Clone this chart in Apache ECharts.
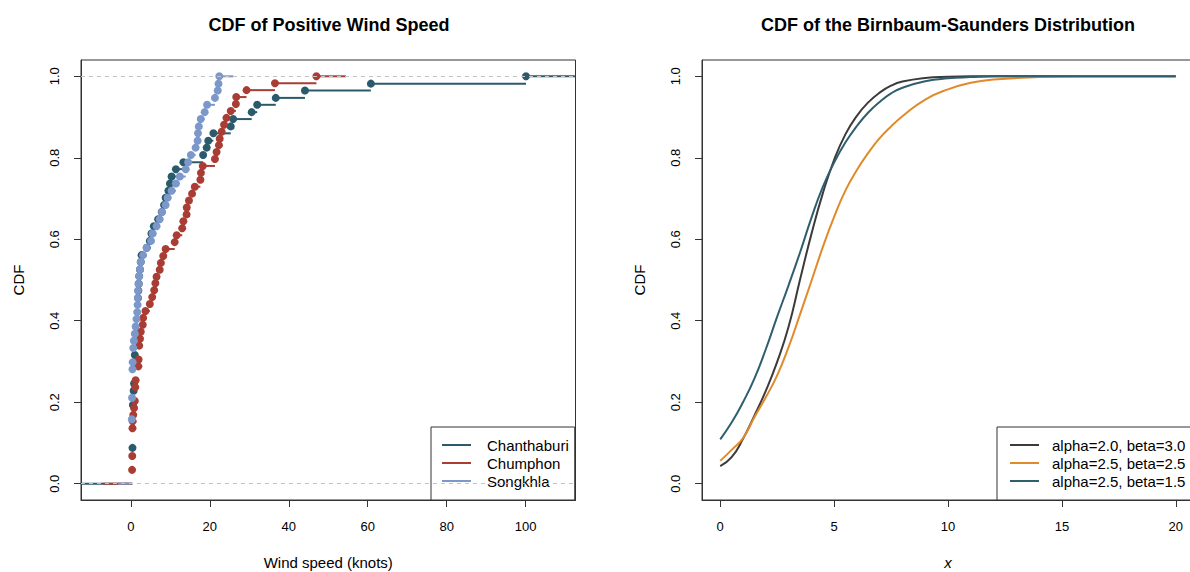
<!DOCTYPE html>
<html><head><meta charset="utf-8">
<script src="https://cdn.jsdelivr.net/npm/echarts@6/dist/echarts.min.js"></script>
<style>html,body{margin:0;padding:0;background:#fff}#c{width:1190px;height:572px}</style>
</head><body><div id="c"></div>
<script>
const stations = ['Chanthaburi', 'Chumphon', 'Songkhla'];
const stationColors = ['#2a5a6b', '#a93c33', '#7c97ca'];

const chanthaburiX = [0.4,0.5,0.7,0.8,0.9,1.0,1.8,1.9,2.0,2.1,2.3,2.5,2.7,4.0,4.8,5.2,5.8,6.9,7.8,8.4,8.8,9.5,9.9,10.3,11.4,13.3,18.3,19.2,19.6,20.9,25.3,25.9,30.6,32.0,36.7,44.1,60.8,100.1];
const chanthaburiF = [0.088,0.193,0.228,0.246,0.298,0.316,0.456,0.474,0.491,0.509,0.526,0.544,0.561,0.579,0.596,0.614,0.632,0.649,0.667,0.684,0.702,0.719,0.737,0.754,0.772,0.789,0.807,0.825,0.842,0.860,0.877,0.895,0.912,0.930,0.947,0.965,0.982,1.000];

const chumphonX = [0.3,0.35,0.4,0.45,0.6,0.8,1.0,1.1,1.2,1.9,1.95,2.1,2.3,2.5,3.0,3.1,3.7,4.8,5.4,5.9,6.2,6.5,7.3,7.6,8.2,8.8,11.1,11.6,13.0,13.3,14.1,14.15,14.7,15.5,16.2,17.6,17.75,18.2,21.3,21.7,22.3,22.5,23.0,23.6,24.2,25.3,26.6,26.7,29.3,36.5,47.0];
const chumphonF = [0.034,0.068,0.136,0.153,0.169,0.186,0.203,0.237,0.254,0.288,0.305,0.339,0.356,0.373,0.390,0.407,0.424,0.441,0.458,0.475,0.492,0.508,0.525,0.542,0.559,0.576,0.593,0.610,0.627,0.644,0.661,0.678,0.695,0.712,0.729,0.746,0.763,0.780,0.797,0.814,0.831,0.847,0.864,0.881,0.898,0.915,0.932,0.949,0.966,0.983,1.000];

const songkhlaX = [0.25,0.3,0.4,0.45,0.6,0.75,1.0,1.2,1.4,1.6,1.7,1.75,1.8,1.9,2.1,2.3,2.5,3.1,4.0,5.1,5.5,6.5,7.3,7.9,8.8,9.3,10.3,11.4,12.4,13.9,14.5,15.2,16.4,16.9,17.0,17.2,17.7,18.7,19.3,21.3,22.0,22.2,22.4];
const songkhlaF = [0.158,0.211,0.281,0.298,0.333,0.351,0.368,0.386,0.404,0.421,0.439,0.456,0.474,0.491,0.509,0.526,0.544,0.561,0.579,0.596,0.614,0.632,0.649,0.667,0.684,0.702,0.719,0.737,0.754,0.772,0.789,0.807,0.825,0.842,0.860,0.877,0.895,0.912,0.930,0.947,0.965,0.982,1.000];

const leftXTicks = [0, 20, 40, 60, 80, 100];
const yTicks = [0, 0.2, 0.4, 0.6, 0.8, 1.0];

const bsNames = ['alpha=2.0, beta=3.0', 'alpha=2.5, beta=2.5', 'alpha=2.5, beta=1.5'];
const bsColors = ['#3b3b3b', '#e08a2b', '#2f5e6f'];
const bsX = [0,0.5,1,1.5,2,2.5,3,3.5,4,4.5,5,5.5,6,6.5,7,7.5,8,9,10,11,12,14,16,18,20];
const bsF1 = [0.043,0.065,0.110,0.167,0.228,0.299,0.385,0.500,0.612,0.712,0.795,0.858,0.903,0.936,0.960,0.977,0.987,0.996,0.999,1.000,1.000,1.000,1.000,1.000,1.000];
const bsF2 = [0.056,0.083,0.112,0.163,0.212,0.266,0.335,0.415,0.497,0.580,0.655,0.720,0.770,0.812,0.848,0.877,0.902,0.943,0.968,0.984,0.992,0.998,1.000,1.000,1.000];
const bsF3 = [0.109,0.150,0.200,0.258,0.330,0.410,0.487,0.567,0.652,0.728,0.788,0.838,0.878,0.911,0.937,0.958,0.972,0.988,0.995,0.998,1.000,1.000,1.000,1.000,1.000];
const rightXTicks = [0, 5, 10, 15, 20];

const FONT = '"Liberation Sans", Arial, Helvetica, sans-serif';
const stationX = [chanthaburiX, chumphonX, songkhlaX];
const stationF = [chanthaburiF, chumphonF, songkhlaF];

function ecdfSegments(xs, fs) {
  const dr = 0.08 * (xs[xs.length - 1] - xs[0]);
  const segs = [[xs[0] - 2 * dr, xs[0], 0]];
  for (let i = 0; i < xs.length; i++) {
    const xn = i < xs.length - 1 ? xs[i + 1] : xs[i] + 2 * dr;
    segs.push([xs[i], xn, fs[i]]);
  }
  return segs;
}
function renderSeg(params, api) {
  const cs = params.coordSys;
  const y = api.value(2);
  const p0 = api.coord([api.value(0), y]);
  const p1 = api.coord([api.value(1), y]);
  const a = Math.max(p0[0], cs.x), b = Math.min(p1[0], cs.x + cs.width);
  if (b <= a) return null;
  return { type: 'line', shape: { x1: a, y1: p0[1], x2: b, y2: p0[1] },
           style: { stroke: api.visual('color'), lineWidth: 2 } };
}

function xAxisCfg(grid, min, max, ticks, name, italic) {
  return {
    gridIndex: grid, type: 'value', min: min, max: max, position: 'bottom',
    splitLine: { show: false }, axisLine: { show: true, onZero: false, lineStyle: { color: '#333', width: 1 } },
    axisTick: { show: true, inside: false, length: 7, customValues: ticks, lineStyle: { color: '#333', width: 1 } },
    axisLabel: { customValues: ticks, fontSize: 13, color: '#000', margin: 20, fontFamily: FONT },
    name: name, nameLocation: 'middle', nameGap: 55, nameMoveOverlap: false,
    nameTextStyle: { fontSize: 15, color: '#000', fontFamily: FONT, fontStyle: italic ? 'italic' : 'normal' }
  };
}
function yAxisCfg(grid) {
  return {
    gridIndex: grid, type: 'value', min: -0.04, max: 1.04, position: 'left',
    splitLine: { show: false }, axisLine: { show: true, onZero: false, lineStyle: { color: '#333', width: 1 } },
    axisTick: { show: true, inside: false, length: 7, customValues: yTicks, lineStyle: { color: '#333', width: 1 } },
    axisLabel: { customValues: yTicks, rotate: 90, fontSize: 13, color: '#000', margin: 20, fontFamily: FONT,
                 formatter: v => v.toFixed(1) },
    name: 'CDF', nameLocation: 'middle', nameGap: 55, nameRotate: 90, nameMoveOverlap: false,
    nameTextStyle: { fontSize: 15, color: '#000', fontFamily: FONT }
  };
}

const series = [];
series.push({
  type: 'line', xAxisIndex: 0, yAxisIndex: 0, data: [], silent: true, z: 2,
  markLine: { silent: true, symbol: 'none', label: { show: false },
              lineStyle: { color: '#c4c4c4', type: [4, 4], width: 1 },
              data: [{ yAxis: 0 }, { yAxis: 1 }] }
});
stations.forEach((name, i) => {
  series.push({
    type: 'custom', name: name, xAxisIndex: 0, yAxisIndex: 0, silent: true, z: 2,
    renderItem: renderSeg, encode: { x: [0, 1], y: 2 },
    itemStyle: { color: stationColors[i] },
    data: ecdfSegments(stationX[i], stationF[i])
  });
  series.push({
    type: 'scatter', name: name, xAxisIndex: 0, yAxisIndex: 0, silent: true, z: 2,
    symbol: 'circle', symbolSize: 8,
    itemStyle: { color: stationColors[i], opacity: 1 },
    data: stationX[i].map((x, j) => [x, stationF[i][j]])
  });
});
[bsF1, bsF2, bsF3].forEach((fs, i) => {
  series.push({
    type: 'line', name: bsNames[i], xAxisIndex: 1, yAxisIndex: 1, silent: true,
    smooth: true, showSymbol: false, symbol: 'none',
    lineStyle: { color: bsColors[i], width: 2 }, itemStyle: { color: bsColors[i] },
    data: bsX.map((x, j) => [x, fs[j]])
  });
});

const legendBase = {
  orient: 'vertical', icon: 'rect', itemWidth: 29, itemHeight: 2, itemGap: 0,
  borderColor: '#333', borderWidth: 1, backgroundColor: '#fff', borderRadius: 0,
  selectedMode: false
};

const option = {
  animation: false,
  backgroundColor: '#fff',
  title: [
    { text: 'CDF of Positive Wind Speed', left: 329, top: 16, textAlign: 'center', padding: 0,
      textStyle: { fontSize: 18, fontWeight: 'bold', color: '#000', fontFamily: FONT } },
    { text: 'CDF of the Birnbaum-Saunders Distribution', left: 948, top: 16, textAlign: 'center', padding: 0,
      textStyle: { fontSize: 18, fontWeight: 'bold', color: '#000', fontFamily: FONT } }
  ],
  grid: [
    { left: 81, top: 60, width: 494.5, height: 440, show: true, borderColor: '#333', borderWidth: 1, backgroundColor: 'transparent', outerBoundsMode: 'none' },
    { left: 702, top: 60, width: 492, height: 440, show: true, borderColor: '#333', borderWidth: 1, backgroundColor: 'transparent', outerBoundsMode: 'none' }
  ],
  xAxis: [
    xAxisCfg(0, -12.64, 112.64, leftXTicks, 'Wind speed (knots)', false),
    xAxisCfg(1, -0.8, 20.8, rightXTicks, 'x', true)
  ],
  yAxis: [yAxisCfg(0), yAxisCfg(1)],
  legend: [
    Object.assign({}, legendBase, {
      left: 431, top: 427, padding: [9, 6, 10, 11],
      data: stations.map((n, i) => ({ name: n, itemStyle: { color: stationColors[i] } })),
      textStyle: { fontSize: 15, lineHeight: 18, color: '#000', fontFamily: FONT, padding: [0, 0, 0, 11] }
    }),
    Object.assign({}, legendBase, {
      left: 997, top: 427, padding: [9, 6, 10, 13],
      data: bsNames.map((n, i) => ({ name: n, itemStyle: { color: bsColors[i] } })),
      textStyle: { fontSize: 15, lineHeight: 18, color: '#000', fontFamily: FONT, padding: [0, 0, 0, 8] }
    })
  ],
  series: series
};

const chart = echarts.init(document.getElementById('c'), null, { renderer: 'svg', width: 1190, height: 572 });
chart.setOption(option);
</script>
</body></html>
